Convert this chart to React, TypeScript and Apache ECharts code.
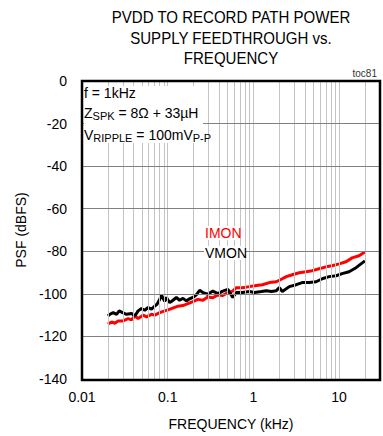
import React, { useEffect, useRef } from "react";
import * as echarts from "echarts";

const TITLE_LINES = ["PVDD TO RECORD PATH POWER", "SUPPLY FEEDTHROUGH vs.", "FREQUENCY"];
const X_LABELS = [0.01, 0.1, 1, 10];
const Y_TICKS = [0, -20, -40, -60, -80, -100, -120, -140];
const VERT_GRID = [
  0.02, 0.03, 0.04, 0.05, 0.06, 0.07, 0.08, 0.09, 0.1,
  0.2, 0.3, 0.4, 0.5, 0.6, 0.7, 0.8, 0.9, 1,
  2, 3, 4, 5, 6, 7, 8, 9, 10, 20,
];
const HORZ_GRID = [-20, -40, -60, -80, -100, -120];

const IMON_FREQ = [
  0.02, 0.02215, 0.02419, 0.02643, 0.03022, 0.03456, 0.03785, 0.04134, 0.04516, 0.05162,
  0.05652, 0.06466, 0.07062, 0.08072, 0.09229, 0.1008, 0.1104, 0.1318, 0.1507, 0.1722,
  0.1969, 0.2251, 0.2574, 0.2941, 0.3363, 0.3845, 0.4396, 0.5026, 0.5744, 0.6292,
  0.6874, 0.745, 0.899, 1.084, 1.273, 1.535, 1.851, 2.174, 2.42, 2.842,
  3.426, 4.134, 4.853, 5.853, 7.062, 8.29, 10, 12.06, 14.17, 17.09, 20,
];
const IMON_DB = [
  -114.2, -113.2, -113.8, -112.7, -112.7, -111.6, -112.2, -110.4, -111.6, -110.0,
  -110.8, -109.6, -110.0, -108.8, -108.0, -107.5, -106.9, -105.8, -105.5, -104.6,
  -103.6, -102.6, -103.0, -101.5, -101.8, -100.5, -100.8, -99.4, -98.7, -97.1,
  -97.1, -97.1, -96.6, -96.1, -95.7, -94.7, -94.3, -92.9, -91.9, -91.0,
  -90.1, -89.6, -89.1, -88.2, -87.3, -86.8, -85.9, -84.9, -83.1, -82.1, -80.3,
];

const VMON_FREQ = [
  0.02, 0.02116, 0.02312, 0.02532, 0.02715, 0.02974, 0.03311, 0.03785, 0.04134, 0.04516,
  0.04946, 0.05402, 0.05903, 0.06466, 0.07062, 0.07507, 0.08072, 0.08446, 0.0923, 0.0966,
  0.1008, 0.1055, 0.1104, 0.1262, 0.1379, 0.1507, 0.165, 0.1803, 0.1969, 0.2157,
  0.2356, 0.2574, 0.2941, 0.3363, 0.3845, 0.4396, 0.5026, 0.5744, 0.6292, 0.6874,
  0.745, 0.899, 1.027, 1.239, 1.417, 1.619, 1.851, 2.006, 2.174, 2.622,
  3.162, 3.714, 4.479, 5.402, 6.344, 7.65, 9.229, 10.84, 13.07, 15.77, 20,
];
const VMON_DB = [
  -110.4, -109.6, -108.8, -109.6, -108.0, -108.8, -109.6, -109.2, -110.4, -108.0,
  -106.9, -107.7, -106.4, -107.2, -105.7, -104.9, -102.5, -100.7, -103.5, -101.7,
  -102.9, -104.1, -103.6, -101.7, -103.0, -102.1, -103.3, -102.3, -101.7, -100.5,
  -98.3, -99.4, -100.2, -98.7, -99.9, -98.7, -97.9, -101.7, -99.4, -99.4,
  -99.4, -98.9, -99.4, -98.9, -98.5, -98.9, -98.5, -97.1, -98.9, -96.6,
  -95.7, -94.7, -94.7, -94.3, -92.9, -91.9, -91.5, -90.5, -89.6, -87.7, -84.5,
];

const FONT = "'Liberation Sans', Arial, sans-serif";

export default function App() {
  const ref = useRef<HTMLDivElement>(null);
  useEffect(() => {
    if (!ref.current) return;
    const chart = echarts.init(ref.current, undefined, { renderer: "svg" });
    const imon = IMON_FREQ.map((f, i) => [f, IMON_DB[i]]);
    const vmon = VMON_FREQ.map((f, i) => [f, VMON_DB[i]]);
    const textBase = { fontSize: 14, fontFamily: FONT, fill: "#000" };
    const subRich = {
      n: { fontSize: 14, fontFamily: FONT, lineHeight: 15, verticalAlign: "top" },
      s: { fontSize: 11, fontFamily: FONT, lineHeight: 12, verticalAlign: "bottom", padding: [5, 0, 0, 0] },
    };
    chart.setOption({
      animation: false,
      backgroundColor: "#fff",
      grid: {
        left: 82,
        top: 81,
        right: 3,
        bottom: 56,
        show: false,
      },
      xAxis: {
        type: "log",
        logBase: 10,
        min: 0.01,
        max: 30,
        axisLine: { show: false },
        axisTick: { show: false },
        splitLine: { show: false },
        axisLabel: {
          fontSize: 14,
          fontFamily: FONT,
          color: "#000",
          margin: 11,
          showMaxLabel: false,
          formatter: (v: number) => {
            const m = X_LABELS.find((l) => Math.abs(Math.log10(v) - Math.log10(l)) < 1e-6);
            return m !== undefined ? String(m) : "";
          },
        },
        name: "FREQUENCY (kHz)",
        nameLocation: "middle",
        nameGap: 38,
        nameTextStyle: { fontSize: 14, fontFamily: FONT, color: "#000" },
      },
      yAxis: {
        type: "value",
        min: -140,
        max: 0,
        interval: 20,
        axisLine: { show: false },
        axisTick: { show: false },
        splitLine: { show: false },
        axisLabel: {
          fontSize: 14,
          fontFamily: FONT,
          color: "#000",
          margin: 15,
          formatter: (v: number) => (Y_TICKS.includes(v) ? String(v) : ""),
        },
        name: "PSF (dBFS)",
        nameLocation: "middle",
        nameGap: 52,
        nameRotate: 90,
        nameTextStyle: { fontSize: 14, fontFamily: FONT, color: "#000" },
      },
      series: [
        {
          name: "grid",
          type: "line",
          data: [],
          z: 1,
          silent: true,
          markLine: {
            silent: true,
            symbol: ["none", "none"],
            label: { show: false },
            animation: false,
            data: [
              ...VERT_GRID.map((v) => ({ xAxis: v, lineStyle: { color: "#c4c4c4", width: 1, type: "solid" } })),
              ...HORZ_GRID.map((v) => ({ yAxis: v, lineStyle: { color: "#808080", width: 1, type: "solid" } })),
            ],
          },
        },
        {
          name: "IMON",
          type: "line",
          data: imon,
          showSymbol: false,
          z: 3,
          lineStyle: { color: "#ff0000", width: 3 },
          itemStyle: { color: "#ff0000" },
        },
        {
          name: "VMON",
          type: "line",
          data: vmon,
          showSymbol: false,
          z: 4,
          lineStyle: { color: "#000000", width: 3 },
          itemStyle: { color: "#000000" },
        },
      ],
      graphic: [
        ...TITLE_LINES.map((t, i) => ({
          type: "text",
          x: 231,
          y: [17.5, 38, 58.5][i],
          scaleX: 0.94,
          z: 100,
          style: {
            text: t,
            fontSize: 16,
            fontFamily: FONT,
            fill: "#000",
            textAlign: "center",
            textVerticalAlign: "middle",
          },
        })),
        {
          type: "text",
          x: 377,
          y: 73.5,
          z: 100,
          style: {
            text: "toc81",
            fontSize: 10,
            fontFamily: FONT,
            fill: "#333",
            textAlign: "right",
            textVerticalAlign: "middle",
          },
        },
        {
          type: "rect",
          z: 90,
          shape: { x: 84, y: 86, width: 119, height: 57 },
          style: { fill: "#fff" },
        },
        {
          type: "rect",
          z: 95,
          shape: { x: 82, y: 81, width: 298, height: 299 },
          style: { fill: "none", stroke: "#000", lineWidth: 2.5 },
        },
        {
          type: "text",
          x: 84,
          y: 93,
          z: 100,
          style: { ...textBase, text: "f = 1kHz", textVerticalAlign: "middle" },
        },
        {
          type: "text",
          x: 84,
          y: 106,
          z: 100,
          style: { ...textBase, text: "{n|Z}{s|SPK}{n| = 8Ω + 33µH}", rich: subRich },
        },
        {
          type: "text",
          x: 84,
          y: 128,
          z: 100,
          style: { ...textBase, text: "{n|V}{s|RIPPLE}{n| = 100mV}{s|P-P}", rich: subRich },
        },
        {
          type: "rect",
          z: 90,
          shape: { x: 204, y: 226, width: 34, height: 14 },
          style: { fill: "#fff" },
        },
        {
          type: "text",
          x: 205,
          y: 233,
          z: 100,
          style: { ...textBase, text: "IMON", fill: "#ff0000", textVerticalAlign: "middle" },
        },
        {
          type: "rect",
          z: 90,
          shape: { x: 204, y: 246, width: 41, height: 14 },
          style: { fill: "#fff" },
        },
        {
          type: "text",
          x: 205,
          y: 253,
          z: 100,
          style: { ...textBase, text: "VMON", textVerticalAlign: "middle" },
        },
      ],
    });
    return () => chart.dispose();
  }, []);
  return (
    <div
      ref={ref}
      style={{ position: "absolute", left: 0, top: 0, width: 383, height: 436 }}
    />
  );
}
